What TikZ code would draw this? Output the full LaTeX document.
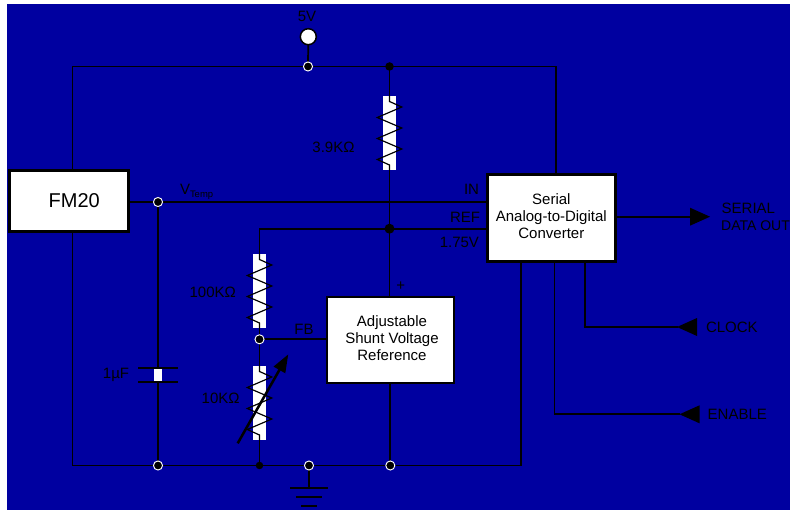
\documentclass[tikz,border=0pt]{standalone}
\usepackage{fontspec}
\setmainfont{Liberation Sans}
\usetikzlibrary{arrows.meta}
\pgfdeclarelayer{bg}
\pgfdeclarelayer{wires}
\pgfsetlayers{bg,wires,main}
\definecolor{panel}{HTML}{0000A0}
\newcommand{\lf}{\fontsize{11.25pt}{13.1pt}\selectfont}
\newcommand{\zig}[1]{\draw[zz] (#1.north) -- ++(0,5.5) -- ++(12.3,5.5) -- ++(-24.5,10.5) -- ++(24.5,10.5) -- ++(-24.5,10.5) -- ++(24.5,10.5) -- ++(-24.5,10.5) -- ++(12.2,5.5) -- (#1.south);}
\tikzset{
  wire/.style={line width=1.3pt,line cap=rect,line join=miter},
  zz/.style={line width=0.9pt,line join=miter},
  boxa/.style={rectangle,draw=black,fill=white,line width=2.25pt,inner sep=0pt,outer sep=0pt},
  boxb/.style={rectangle,draw=black,fill=white,line width=1.9pt,inner sep=0pt,outer sep=0pt},
  ring/.style={circle,fill=black,draw=white,line width=0.7pt,minimum size=6.8pt,inner sep=0pt,outer sep=0pt},
  dotj/.style={circle,fill=black,inner sep=0pt,outer sep=0pt,minimum size=#1},
  dotj/.default=5.6pt,
  res/.style={rectangle,fill=white,inner sep=0pt,outer sep=0pt,minimum width=9.75pt,minimum height=55.5pt},
  lab/.style={inner sep=0pt,outer sep=0pt,font=\lf,text height=8.1pt,text depth=0pt},
  tipt/.style={fill=black},
}
\begin{document}
\begin{tikzpicture}[x=0.75pt,y=-0.75pt]
\useasboundingbox (0,0) rectangle (790,510);
\begin{pgfonlayer}{bg}
  \fill[white] (0,0) rectangle (790,510);
  \fill[panel] (7,4) rectangle (790,510);
\end{pgfonlayer}

% blocks
\node[boxa,minimum width=89.6pt,minimum height=45.75pt,font=\fontsize{15pt}{17pt}\selectfont] (fm) at (68.75,201) {\hspace{8.25pt}\raisebox{-1.2pt}{FM20}};
\node[boxa,minimum width=96pt,minimum height=65.25pt,font=\lf] (adc) at (551,218) {\hspace{0.5pt}\raisebox{3pt}{\begin{tabular}{@{}c@{}}Serial\\Analog-to-Digital\\Converter\end{tabular}}};
\node[boxb,minimum width=95.25pt,minimum height=64.5pt,font=\lf] (sh) at (390.5,340) {\hspace{2.2pt}\raisebox{-2.6pt}{\begin{tabular}{@{}c@{}}Adjustable\\Shunt Voltage\\Reference\end{tabular}}};

% junctions
\node[circle,draw=black,fill=white,line width=1.125pt,minimum size=12pt,inner sep=0pt,outer sep=0pt] (vs) at (308.3,36.7) {};
\node[ring] (jt) at (308,66.5) {};
\node[dotj=6.4pt] (jr) at (389.5,66.5) {};
\node[ring] (jv) at (158,202) {};
\node[dotj=7.5pt] (jref) at (389.5,228.7) {};
\node[ring] (jfb) at (259.5,339.3) {};
\node[ring] (jb1) at (158,465.5) {};
\node[dotj] (jb2) at (259.5,465.5) {};
\node[ring] (jb3) at (309,465.5) {};
\node[ring] (jb4) at (390.3,465.5) {};

% resistors and capacitor
\node[res] (r1) at (389.5,133) {};
\node[res] (r2) at (259.5,291) {};
\node[res] (r3) at (259.5,403) {};
\zig{r1}\zig{r2}\zig{r3}
\node[rectangle,fill=white,inner sep=0pt,outer sep=0pt,minimum width=6pt,minimum height=10.7pt] (cap) at (158,375) {};
\draw[wire] ([xshift=-14.6pt]cap.north) -- ([xshift=14.6pt]cap.north);
\draw[wire] ([xshift=-14.6pt]cap.south) -- ([xshift=14.6pt]cap.south);

% ground
\coordinate (g1) at (309,488.3);
\coordinate (g2) at (309,497.3);
\coordinate (g3) at (309,506.3);
\draw[wire] ([xshift=-13.5pt]g1) -- ([xshift=13.5pt]g1);
\draw[wire] ([xshift=-8.8pt]g2) -- ([xshift=8.8pt]g2);
\draw[wire] ([xshift=-5.6pt]g3) -- ([xshift=5.6pt]g3);

% wire corners and terminals
\coordinate (tl) at (72.5,66.5);
\coordinate (bl) at (72.5,465.5);
\coordinate (tr) at (556,66.5);
\coordinate (br) at (520.7,465.5);
\coordinate (rc) at (259.5,228.7);
\coordinate (ser) at (690,216.7);
\coordinate (clk) at (677,327);
\coordinate (ena) at (679.5,414.3);
\coordinate (clkx) at (585,327);
\coordinate (enax) at (554.5,414.3);

\begin{pgfonlayer}{wires}
  \draw[wire] (fm.north -| tl) -- (tl) -- (jt);
  \draw[wire] (jt) -- (jr);
  \draw[wire] (jr) -- (tr) -- (adc.north -| tr);
  \draw[wire] (fm.south -| bl) -- (bl) -- (jb1);
  \draw[wire] (jb1) -- (jb2);
  \draw[wire] (jb2) -- (jb3);
  \draw[wire] (jb3) -- (jb4);
  \draw[wire] (jb4) -- (br) -- (adc.south -| br);
  \draw[wire] (vs) -- (jt);
  \draw[wire] (fm.east |- jv) -- (jv);
  \draw[wire] (jv) -- (adc.west |- jv);
  \draw[wire] (jr) -- (r1.north);
  \draw[wire] (r1.south) -- (jref);
  \draw[wire] (jref) -- (sh.north -| jref);
  \draw[wire] (jref) -- (adc.west |- jref);
  \draw[wire] (jref) -- (rc) -- (r2.north);
  \draw[wire] (r2.south) -- (jfb);
  \draw[wire] (jfb) -- (r3.north);
  \draw[wire] (r3.south) -- (jb2);
  \draw[wire] (jfb) -- (sh.west |- jfb);
  \draw[wire] (jv) -- (cap.north);
  \draw[wire] (cap.south) -- (jb1);
  \draw[wire] (sh.south -| jb4) -- (jb4);
  \draw[wire] (jb3) -- (g1);
  \draw[wire] (adc.east |- ser) -- (ser);
  \draw[wire] (adc.south -| clkx) -- (clkx) -- (clk);
  \draw[wire] (adc.south -| enax) -- (enax) -- (ena);
\end{pgfonlayer}

% terminals
\fill[tipt] (ser) ++(0,-9) -- ++(20,9) -- ++(-20,9) -- cycle;
\fill[tipt] (clk) -- ++(20,-9) -- ++(0,18) -- cycle;
\fill[tipt] (ena) -- ++(20,-9) -- ++(0,18) -- cycle;

% variable resistor arrow
\coordinate (va) at (237.7,443.3);
\coordinate (vb) at (288.3,354.3);
\draw[line width=1.9pt,-{Triangle[length=13.5pt,width=9.6pt]}] (va) -- (vb);

% labels
\node[lab] (l5v) at (307,16) {5V};
\node[lab] (l39) at (333.5,147.3) {3.9KΩ};
\node[lab,anchor=west] (lvt) at (180,188.7) {V\raisebox{-2.6pt}{\fontsize{7.1pt}{8pt}\selectfont Temp}};
\node[lab,anchor=east] (lin) at (479,188.7) {IN};
\node[lab,anchor=east] (lref) at (480,216.7) {REF};
\node[lab,anchor=east] (l175) at (479,241.7) {1.75V};
\node[lab,anchor=west] (ls1) at (721.7,208) {SERIAL};
\node[lab,anchor=west,font=\fontsize{10.5pt}{12pt}\selectfont] (ls2) at (721.2,225) {DATA OUT};
\node[lab,anchor=west] (lck) at (706,326.7) {CLOCK};
\node[lab,anchor=west] (len) at (707.7,413.7) {ENABLE};
\node[lab] (lp) at (400.7,285) {+};
\node[lab] (lfb) at (304,328.7) {FB};
\node[lab] (l100) at (212.7,292) {100KΩ};
\node[lab] (l10) at (220.7,397.7) {10KΩ};
\node[lab] (l1u) at (116,373) {1µF};
\end{tikzpicture}
\end{document}
